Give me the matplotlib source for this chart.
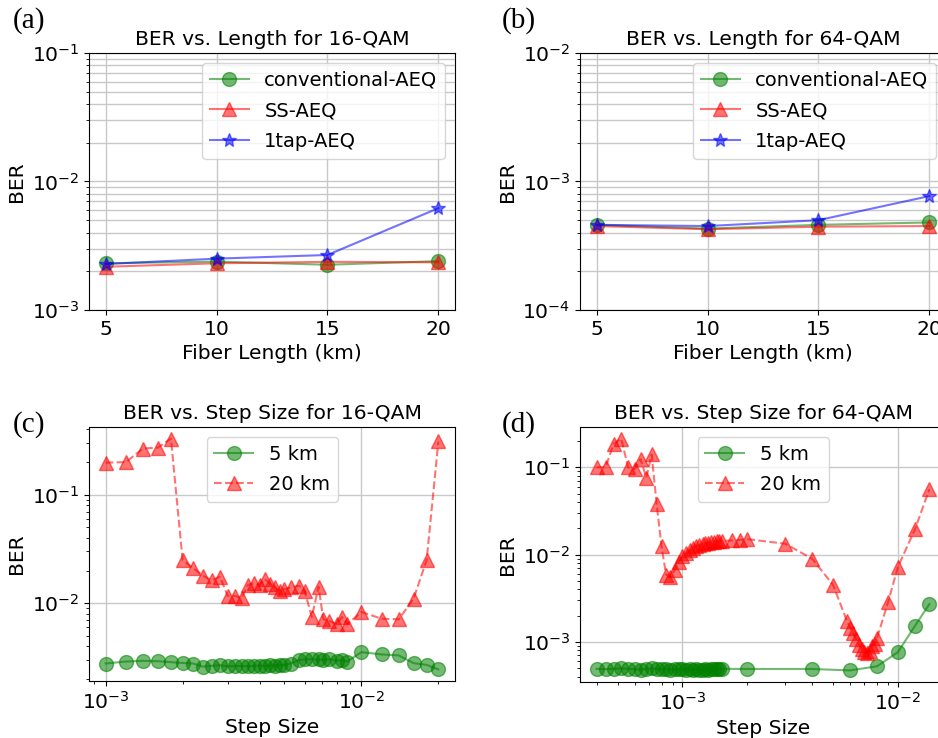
import matplotlib
matplotlib.use("Agg")
import matplotlib.pyplot as plt
import numpy as np

plt.rcParams['font.family'] = ['DejaVu Sans']
plt.rcParams['font.size'] = 14.6
plt.rcParams['axes.titlesize'] = 14.6
plt.rcParams['legend.fontsize'] = 14.0

# ---------------- data ----------------
length_km = [5, 10, 15, 20]
ber16_conv = [2.31e-3, 2.38e-3, 2.25e-3, 2.40e-3]
ber16_ss = [2.17e-3, 2.31e-3, 2.37e-3, 2.35e-3]
ber16_1tap = [2.28e-3, 2.51e-3, 2.68e-3, 6.2e-3]

ber64_conv = [4.6e-4, 4.3e-4, 4.6e-4, 4.8e-4]
ber64_ss = [4.5e-4, 4.25e-4, 4.45e-4, 4.5e-4]
ber64_1tap = [4.6e-4, 4.5e-4, 5.0e-4, 7.7e-4]

# (c) 16-QAM step size sweep
step16 = [1.0e-3, 1.2e-3, 1.4e-3, 1.6e-3, 1.8e-3, 2.0e-3, 2.2e-3, 2.4e-3, 2.6e-3,
          2.8e-3, 3.0e-3, 3.2e-3, 3.4e-3, 3.6e-3, 3.8e-3, 4.0e-3, 4.2e-3, 4.4e-3,
          4.6e-3, 4.8e-3, 5.0e-3, 5.3e-3, 5.7e-3, 6.0e-3, 6.4e-3, 6.8e-3, 7.1e-3,
          7.5e-3, 8.0e-3, 8.4e-3, 8.8e-3, 1.0e-2, 1.2e-2, 1.4e-2, 1.6e-2, 1.8e-2, 2.0e-2]
ber16_5km = [2.78e-3, 2.90e-3, 2.94e-3, 2.92e-3, 2.86e-3, 2.81e-3, 2.78e-3, 2.60e-3, 2.65e-3,
             2.68e-3, 2.62e-3, 2.63e-3, 2.64e-3, 2.62e-3, 2.65e-3, 2.66e-3, 2.64e-3, 2.67e-3,
             2.66e-3, 2.68e-3, 2.70e-3, 2.78e-3, 3.00e-3, 3.03e-3, 3.05e-3, 3.03e-3, 3.00e-3,
             3.05e-3, 2.95e-3, 3.00e-3, 2.90e-3, 3.54e-3, 3.37e-3, 3.30e-3, 2.80e-3, 2.70e-3, 2.45e-3]
ber16_20km = [0.198, 0.200, 0.267, 0.272, 0.330, 0.025, 0.0211, 0.0179, 0.0163,
              0.0175, 0.0117, 0.0117, 0.0111, 0.0148, 0.0152, 0.0148, 0.0167, 0.0150,
              0.0140, 0.0130, 0.0135, 0.0140, 0.0145, 0.0130, 0.00746, 0.0142, 0.0071,
              0.00686, 0.0064, 0.00746, 0.0064, 0.0083, 0.0072, 0.0071, 0.0110, 0.025, 0.31]

# (d) 64-QAM step size sweep
step64_5km = [4.0e-4, 4.4e-4, 4.8e-4, 5.2e-4, 5.6e-4, 6.0e-4, 6.4e-4, 6.8e-4, 7.2e-4, 7.6e-4,
              8.0e-4, 8.4e-4, 8.8e-4, 9.2e-4, 9.6e-4, 1.00e-3, 1.04e-3, 1.08e-3, 1.12e-3, 1.16e-3,
              1.20e-3, 1.24e-3, 1.28e-3, 1.32e-3, 1.36e-3, 1.40e-3, 1.44e-3, 1.48e-3, 1.52e-3,
              2.0e-3, 4.0e-3, 6.0e-3, 8.0e-3, 1.0e-2, 1.2e-2, 1.4e-2]
ber64_5km = [4.9e-4, 4.85e-4, 4.9e-4, 4.95e-4, 4.9e-4, 4.85e-4, 4.8e-4, 4.9e-4, 4.95e-4, 4.9e-4,
             4.85e-4, 4.9e-4, 4.8e-4, 4.85e-4, 4.9e-4, 4.85e-4, 4.8e-4, 4.85e-4, 4.8e-4, 4.85e-4,
             4.8e-4, 4.8e-4, 4.85e-4, 4.8e-4, 4.85e-4, 4.9e-4, 4.85e-4, 4.9e-4, 4.9e-4,
             4.88e-4, 4.88e-4, 4.7e-4, 5.24e-4, 7.6e-4, 1.52e-3, 2.7e-3]
step64_20km = [4.0e-4, 4.4e-4, 4.8e-4, 5.2e-4, 5.6e-4, 6.0e-4, 6.4e-4, 6.8e-4, 7.2e-4, 7.6e-4,
               8.0e-4, 8.4e-4, 8.8e-4, 9.2e-4, 9.6e-4, 1.00e-3, 1.04e-3, 1.08e-3, 1.12e-3, 1.16e-3,
               1.20e-3, 1.24e-3, 1.28e-3, 1.32e-3, 1.36e-3, 1.40e-3, 1.44e-3, 1.48e-3, 1.52e-3,
               1.70e-3, 1.85e-3, 2.0e-3, 3.0e-3, 4.0e-3, 5.0e-3, 5.8e-3, 6.0e-3, 6.2e-3, 6.4e-3,
               6.6e-3, 6.8e-3, 7.0e-3, 7.2e-3, 7.4e-3, 7.6e-3, 7.8e-3, 8.0e-3, 9.0e-3, 1.0e-2,
               1.2e-2, 1.4e-2]
ber64_20km = [0.100, 0.100, 0.186, 0.213, 0.100, 0.095, 0.124, 0.076, 0.140, 0.0375,
              0.0124, 0.0059, 0.0055, 0.0066, 0.0083, 0.0095, 0.0104, 0.0112, 0.0120, 0.0125,
              0.0129, 0.0132, 0.0135, 0.0137, 0.0139, 0.0140, 0.0141, 0.0142, 0.0143,
              0.0145, 0.0147, 0.0150, 0.0133, 0.00895, 0.0045, 0.00174, 0.00145, 0.00125, 0.00107,
              0.00093, 0.00082, 0.00076, 0.00074, 0.00078, 0.00089, 0.00095, 0.0011, 0.00283, 0.0072,
              0.0194, 0.056]

# ---------------- figure ----------------
W, H = 938, 738
fig = plt.figure(figsize=(W / 100, H / 100), dpi=100)

def ax_rect(left, top, right, bottom):
    return [left / W, 1 - bottom / H, (right - left) / W, (bottom - top) / H]

ax_a = fig.add_axes(ax_rect(89, 53, 455, 310))
ax_b = fig.add_axes(ax_rect(580, 53, 946, 310))
ax_c = fig.add_axes(ax_rect(89, 427, 455, 681))
ax_d = fig.add_axes(ax_rect(580, 427, 946, 682))

ALPHA = 0.55
grid_kw = dict(color='#c8c8c8', linewidth=1.0)

def length_panel(ax, conv, ss, tap, title, ylim):
    ax.plot(length_km, conv, 'g-o', alpha=ALPHA, markersize=10, label='conventional-AEQ')
    ax.plot(length_km, ss, 'r-^', alpha=ALPHA, markersize=10, label='SS-AEQ')
    ax.plot(length_km, tap, 'b-*', alpha=ALPHA, markersize=10, label='1tap-AEQ')
    ax.set_yscale('log')
    ax.set_ylim(*ylim)
    ax.set_xticks(length_km)
    ax.set_title(title)
    ax.set_xlabel('Fiber Length (km)')
    ax.set_ylabel('BER')
    ax.grid(True, which='major', axis='x', **grid_kw)
    ax.grid(True, which='both', axis='y', **grid_kw)
    ax.legend(loc='upper right', labelspacing=0.6)

length_panel(ax_a, ber16_conv, ber16_ss, ber16_1tap, 'BER vs. Length for 16-QAM', (1e-3, 1e-1))
length_panel(ax_b, ber64_conv, ber64_ss, ber64_1tap, 'BER vs. Length for 64-QAM', (1e-4, 1e-2))

def step_panel(ax, x5, y5, x20, y20, title):
    ax.plot(x5, y5, 'g-o', alpha=ALPHA, markersize=10, label='5 km')
    ax.plot(x20, y20, 'r--^', alpha=ALPHA, markersize=10, label='20 km')
    ax.set_xscale('log')
    ax.set_yscale('log')
    ax.set_title(title)
    ax.set_xlabel('Step Size')
    ax.set_ylabel('BER')
    ax.grid(True, which='major', **grid_kw)
    ax.legend(loc='upper center', labelspacing=0.6)

step_panel(ax_c, step16, ber16_5km, step16, ber16_20km, 'BER vs. Step Size for 16-QAM')
step_panel(ax_d, step64_5km, ber64_5km, step64_20km, ber64_20km, 'BER vs. Step Size for 64-QAM')

for ax in (ax_a, ax_b, ax_c, ax_d):
    ax.set_axisbelow(True)

lab_kw = dict(fontsize=21, family=['Liberation Serif', 'DejaVu Serif'], va='center', ha='left')
fig.text(13 / W, 1 - 21 / H, '(a)', **lab_kw)
fig.text(502 / W, 1 - 21 / H, '(b)', **lab_kw)
fig.text(13 / W, 1 - 425 / H, '(c)', **lab_kw)
fig.text(502 / W, 1 - 425 / H, '(d)', **lab_kw)

fig.savefig('out.png', dpi=100)
